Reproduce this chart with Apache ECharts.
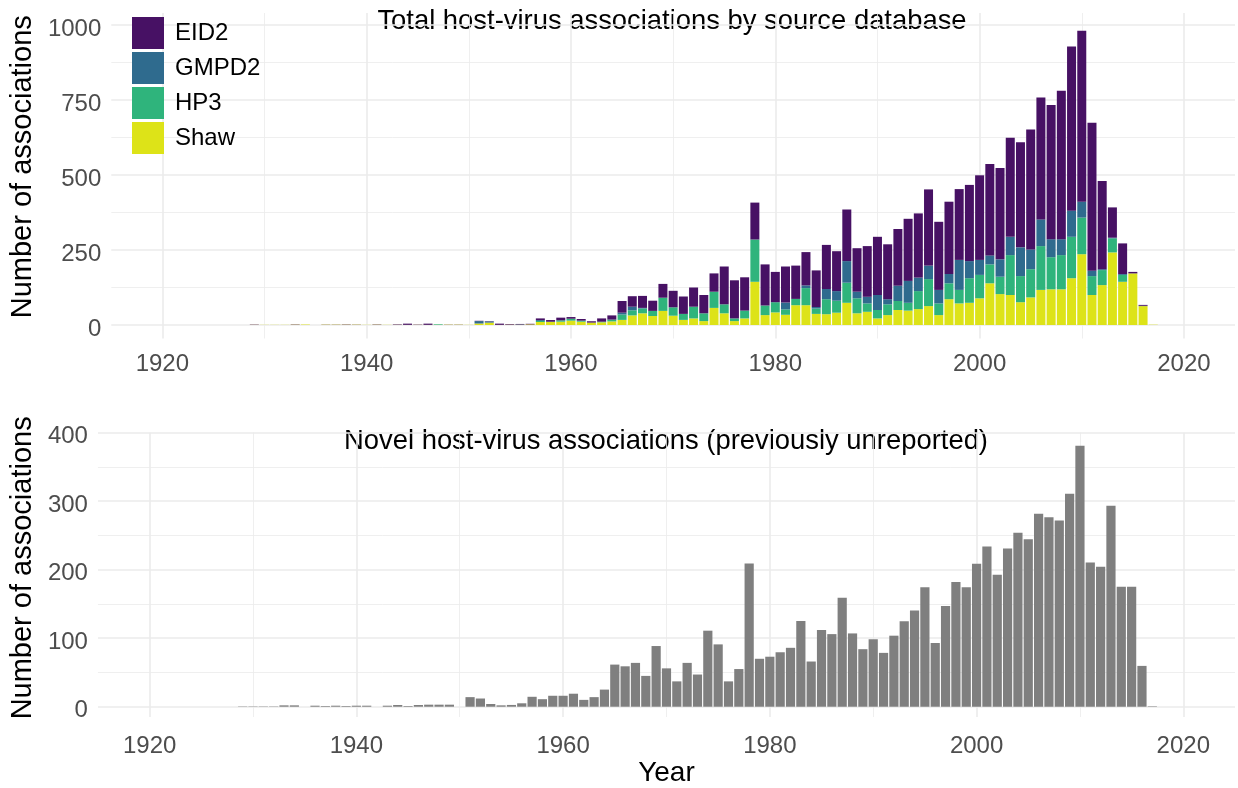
<!DOCTYPE html>
<html><head><meta charset="utf-8">
<script src="https://cdn.jsdelivr.net/npm/echarts@6/dist/echarts.min.js"></script>
<style>html,body{margin:0;padding:0;background:#fff}#c{width:1238px;height:788px}</style>
</head><body><div id="c"></div>
<script>
const years = [1929,1930,1931,1932,1933,1934,1935,1936,1937,1938,1939,1940,1941,1942,1943,1944,1945,1946,1947,1948,1949,1950,
  1951,1952,1953,1954,1955,1956,1957,1958,1959,1960,1961,1962,1963,1964,1965,1966,1967,1968,1969,1970,
  1971,1972,1973,1974,1975,1976,1977,1978,1979,1980,1981,1982,1983,1984,1985,1986,1987,1988,1989,1990,
  1991,1992,1993,1994,1995,1996,1997,1998,1999,2000,2001,2002,2003,2004,2005,2006,2007,2008,2009,2010,
  2011,2012,2013,2014,2015,2016,2017];
const eid2 = [1,0,0,0,1,0,0,0.5,0.5,1,0.5,0,1,0,1.5,4,1,4,0,0.5,0.5,0,
  1,1,4,2,2,2,5.5,5.5,9,5.5,5.5,4.5,11,14,39,35,40,34,46,55,
  58,64,61,61,126,127,111,123,137,101,120,111,111,122,147,133,172,145,169,194,
  183,189,207,214,254,227,241,236,254,282,305,304,330,350,400,406,447,495,547,570,
  493,294,101,102,5,3,0];
const gmpd2 = [0,0,0,0,0,0,0,0,0,0,0,0,0,0,0,0,0,0,0,0,0,0,
  8,4,0,0,0,0,3,0,0,0,0,0,0,0,6,12,2,0,0,0,
  0,0,0,0,0,0,0,0,0,0,23,0,9,5,34,32,72,22,22,50,
  17,51,73,45,45,45,31,100,57,50,30,58,61,96,66,89,60,53,87,53,
  18,3,2,3,0,1,0];
const hp3 = [0,0,0,0,0,0,0,0,0,0,0,0,0,0,0,0,0,0,2,0,0,0,
  0,0,0,0,1,0,3.5,1,4.5,6.5,3.5,0,2,6,18,17,16,17,44,28,
  20,39,26,54,30,9,26,141,32,34,18,21,57,18,50,40,67,50,28,28,
  36,30,26,60,90,39,53,45,82,78,63,58,133,87,94,146,107,114,138,122,
  63,50,47,23,0,0,0];
const shaw = [0.5,0.5,0.5,0.5,1,1.5,0,1,1,1,1,0.5,1,0.5,0.5,0.5,0.5,0.5,0.5,1,1,0.5,
  5,8,0.5,1,0.5,2,10,10,11,14.5,11,8,9,12,17,32,39,30,47,31,
  17,22,13,57,39,13,22,144,33,42,34,66,66,37,36,41,74,39,44,22,
  33,50,48,53,63,33,86,72,74,89,139,103,100,76,92,117,119,119,156,236,
  100,133,242,144,172,63,1];
const novel = [0.5,0.5,0.5,0.5,2,2,0,1.5,1,1.5,1,1.5,1.5,0,1.5,2.5,1,2.5,3,3,3,0,
  14,12,4,2,2.6,5,14.5,11,16,16,19,10,14,25,61.5,59,64,45,88.6,56,
  37,64,47,111,91,37,55,209,70,73,79.5,86,125,66,112,106,159,107,84,98.5,
  78.6,103.7,124.6,140.3,174.5,93,147,182,174.5,208.7,233.9,192.5,231,253.8,244.3,281.8,276.6,271.8,310.8,381,
  210.6,204.4,293.2,175,175,59.6,0.7];
const xTicks = [1920,1940,1960,1980,2000,2020];
const yTicksTop = [0,250,500,750,1000];
const yTicksBottom = [0,100,200,300,400];
const seriesNames = ['EID2','GMPD2','HP3','Shaw'];
const seriesColors = {EID2:'#471164', GMPD2:'#2f6b8e', HP3:'#2fb47c', Shaw:'#dde318'};

const FONT = "'Liberation Sans', Arial, sans-serif";
const GRID = '#ebebeb', NONE = 'rgba(0,0,0,0)';

function colorsFor(min, max, step, test){
  const arr = [];
  for (let k = 0; min + k*step <= max + 1e-9; k++) arr.push(test(min + k*step) ? GRID : NONE);
  arr.push(NONE); arr.push(NONE);
  return arr;
}
function isMajor(ticks){ return v => ticks.indexOf(v) >= 0; }
function isMinor(ticks){ return v => { for (let i=0;i<ticks.length-1;i++){ if (v === (ticks[i]+ticks[i+1])/2) return true; } return false; }; }

function mkAxis(gi, min, max, step, ticks, major, labelExtra, opts){
  const a = {
    gridIndex: gi, type: 'value', min: min, max: max, interval: step,
    axisLine: {show: false}, axisTick: {show: false},
    splitLine: {show: true, lineStyle: {color: colorsFor(min, max, step, major ? isMajor(ticks) : isMinor(ticks)), width: major ? 1.6 : 0.8}},
    axisLabel: major ? Object.assign({show: true, fontSize: 24, color: '#4d4d4d', fontFamily: FONT, margin: 10,
      formatter: v => ticks.indexOf(v) >= 0 ? String(v) : ''}, labelExtra || {}) : {show: false}
  };
  return Object.assign(a, opts || {});
}

const xAxes = [
  mkAxis(0, 1915, 2025, 5, xTicks, true, {margin: 14}, {position: 'bottom'}),
  mkAxis(0, 1915, 2025, 5, xTicks, false, null, {position: 'top'}),
  mkAxis(1, 1915, 2025, 5, xTicks, true, {margin: 17}, {position: 'bottom', name: 'Year', nameLocation: 'middle', nameGap: 42,
    nameTextStyle: {fontSize: 28, color: '#000', fontFamily: FONT}}),
  mkAxis(1, 1915, 2025, 5, xTicks, false, null, {position: 'top'})
];
const yLabelShift = {verticalAlign: 'top', lineHeight: 8};
const yAxes = [
  mkAxis(0, -45, 1040, 5, yTicksTop, true, yLabelShift, {position: 'left', name: 'Number of associations', nameLocation: 'middle', nameGap: 67,
    nameTextStyle: {fontSize: 29, color: '#000', fontFamily: FONT, padding: [0,0,0,18]}}),
  mkAxis(0, -45, 1040, 5, yTicksTop, false, null, {position: 'right'}),
  mkAxis(1, -15, 400, 5, yTicksBottom, true, yLabelShift, {position: 'left', name: 'Number of associations', nameLocation: 'middle', nameGap: 54,
    nameTextStyle: {fontSize: 29, color: '#000', fontFamily: FONT, padding: [0,0,0,14]}}),
  mkAxis(1, -15, 400, 5, yTicksBottom, false, null, {position: 'right'})
];

const dataBy = {EID2: eid2, GMPD2: gmpd2, HP3: hp3, Shaw: shaw};
const stackOrder = ['Shaw','HP3','GMPD2','EID2'];
// value first, year second, so the stack is computed on the y (value) dimension
const series = stackOrder.map(n => ({
  name: n, type: 'bar', stack: 'total', xAxisIndex: 0, yAxisIndex: 0, barWidth: 9,
  encode: {x: 1, y: 0},
  itemStyle: {color: seriesColors[n]},
  data: years.map((y, i) => [dataBy[n][i], y])
}));
series.push({
  name: 'Novel', type: 'bar', xAxisIndex: 2, yAxisIndex: 2, barWidth: 9.2,
  encode: {x: 1, y: 0},
  itemStyle: {color: '#7f7f7f'},
  data: years.map((y, i) => [novel[i], y])
});

const chart = echarts.init(document.getElementById('c'), null, {renderer: 'canvas'});
chart.setOption({
  animation: false,
  backgroundColor: '#fff',
  grid: [
    {left: 105, top: 13, width: 1133, height: 325.5, containLabel: false},
    {left: 92, top: 432.7, width: 1146, height: 291.3, containLabel: false}
  ],
  xAxis: xAxes,
  yAxis: yAxes,
  legend: {
    data: seriesNames, orient: 'vertical', left: 132, top: 17, padding: 0,
    itemWidth: 32, itemHeight: 32, itemGap: 3, icon: 'rect',
    textStyle: {fontSize: 24, color: '#000', fontFamily: FONT, padding: [0,0,0,6]}
  },
  graphic: [
    {type: 'text', x: 672, y: 21, style: {text: 'Total host-virus associations by source database', textAlign: 'center', textVerticalAlign: 'middle',
      fontSize: 27.4, fontFamily: FONT, fill: '#000'}},
    {type: 'text', x: 666, y: 441, style: {text: 'Novel host-virus associations (previously unreported)', textAlign: 'center', textVerticalAlign: 'middle',
      fontSize: 27.4, fontFamily: FONT, fill: '#000'}}
  ],
  series: series
});
</script>
</body></html>
